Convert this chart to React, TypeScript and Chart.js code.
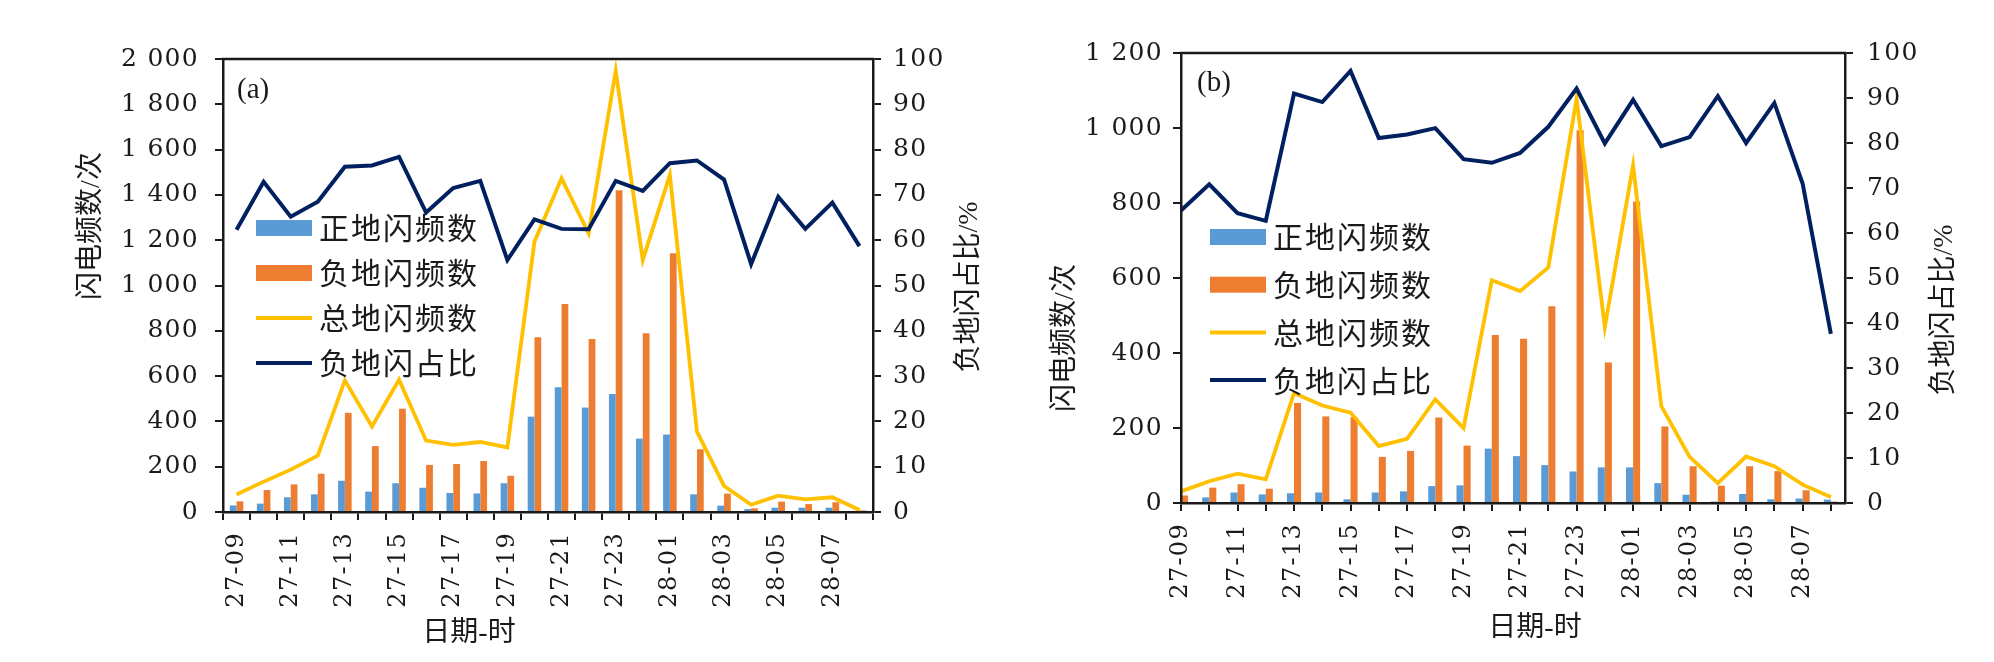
import { useEffect, useRef } from "react";
import { Chart, registerables } from "chart.js";

Chart.register(...registerables);

// hour labels (day-hour), 27-09 .. 28-08
const HOURS = [
  "27-09", "27-10", "27-11", "27-12", "27-13", "27-14", "27-15", "27-16",
  "27-17", "27-18", "27-19", "27-20", "27-21", "27-22", "27-23", "28-00",
  "28-01", "28-02", "28-03", "28-04", "28-05", "28-06", "28-07", "28-08",
];

// panel (a)
const POS_A = [29, 37, 65, 78, 138, 90, 127, 107, 84, 82, 127, 421, 551, 461, 521, 324, 342, 78, 28, 13, 19, 19, 19, 3];
const NEG_A = [47, 97, 122, 169, 438, 291, 456, 208, 212, 225, 160, 771, 918, 764, 1420, 789, 1142, 277, 81, 16, 46, 35, 43, 7];
const TOTAL_A = [77, 134, 187, 249, 581, 378, 584, 315, 296, 309, 285, 1193, 1473, 1230, 1948, 1113, 1488, 355, 115, 32, 72, 56, 65, 9];
const RATIO_A = [62.3, 72.9, 65.2, 68.5, 76.2, 76.5, 78.4, 66.1, 71.5, 73.1, 55.6, 64.6, 62.5, 62.4, 73.1, 70.9, 77.0, 77.6, 73.4, 54.7, 69.6, 62.5, 68.3, 58.7];

// panel (b)
const POS_B = [11, 15, 28, 23, 26, 28, 10, 28, 31, 45, 47, 145, 125, 101, 84, 95, 95, 53, 22, 4, 24, 10, 12, 9];
const NEG_B = [20, 41, 50, 38, 267, 231, 229, 123, 139, 228, 153, 448, 438, 525, 994, 375, 804, 204, 98, 46, 98, 85, 34, 4];
const TOTAL_B = [31, 58, 78, 63, 293, 260, 241, 152, 171, 276, 200, 594, 565, 628, 1078, 469, 900, 258, 123, 53, 124, 98, 49, 16];
const RATIO_B = [65.0, 70.8, 64.4, 62.7, 91.0, 89.1, 96.0, 81.1, 81.9, 83.3, 76.4, 75.6, 77.8, 83.6, 92.1, 79.9, 89.6, 79.3, 81.3, 90.4, 80.0, 88.9, 71.0, 37.6];

const SERIES_NAMES = ["正地闪频数", "负地闪频数", "总地闪频数", "负地闪占比"];

const BLUE = "#5B9BD5";
const ORANGE = "#ED7D31";
const YELLOW = "#FFC000";
const NAVY = "#002060";
const INK = "#1a1a1a";
const NUM_FONT = '"DejaVu Serif", serif';

const H = 662;

function fmtCount(v: number) {
  if (v < 1000) return String(v);
  return `${Math.floor(v / 1000)} ${String(v % 1000).padStart(3, "0")}`;
}

// wider spacing for the tick numbers, like the original print
const spacing = {
  id: "spacing",
  beforeDraw(chart: any) {
    chart.ctx.letterSpacing = "1.3px";
  },
};

// frame top line, panel tag, axis titles and the in-plot legend
const deco = {
  id: "deco",
  afterDraw(chart: any, _args: any, o: any) {
    const { ctx, chartArea: a } = chart;
    ctx.save();
    ctx.letterSpacing = "0px";
    ctx.strokeStyle = INK;
    ctx.lineWidth = 2.5;
    ctx.beginPath();
    ctx.moveTo(a.left - 1.25, a.top);
    ctx.lineTo(a.right + 1.25, a.top);
    ctx.stroke();

    ctx.fillStyle = INK;
    ctx.textBaseline = "middle";
    ctx.textAlign = "left";
    ctx.font = '29px "Liberation Serif"';
    ctx.fillText(o.tag, o.tagX, o.tagY);

    ctx.font = '28px "Liberation Serif", "Noto Sans CJK SC"';
    ctx.textAlign = "center";
    ctx.fillText("日期-时", o.xX, o.xY);
    const rotated: [string, number, number][] = [
      ["闪电频数/次", o.leftX, o.leftY],
      ["负地闪占比/%", o.rightX, o.rightY],
    ];
    for (const [text, x, y] of rotated) {
      ctx.save();
      ctx.translate(x, y);
      ctx.rotate(-Math.PI / 2);
      ctx.fillText(text, 0, 0);
      ctx.restore();
    }

    ctx.font = '30px "Noto Sans CJK SC"';
    ctx.letterSpacing = "2px";
    ctx.textAlign = "left";
    chart.data.datasets.forEach((ds: any, i: number) => {
      const y = o.legendY + i * o.legendGap;
      if (ds.type === "line") {
        ctx.strokeStyle = ds.borderColor;
        ctx.lineWidth = 4;
        ctx.beginPath();
        ctx.moveTo(o.legendX, y);
        ctx.lineTo(o.legendX + 56, y);
        ctx.stroke();
      } else {
        ctx.fillStyle = ds.backgroundColor;
        ctx.fillRect(o.legendX, y - 8, 56, 16);
      }
      ctx.fillStyle = INK;
      ctx.fillText(ds.label, o.legendX + 63, y);
    });
    ctx.restore();
  },
};

type Panel = {
  pos: number[];
  neg: number[];
  total: number[];
  ratio: number[];
  countMax: number;
  countStep: number;
  onTicks: boolean;
  width: number;
  plotLeft: number;
  plotRight: number;
  plotTop: number;
  plotBottom: number;
  padLeft: number;
  padRight: number;
  padX: number;
  deco: any;
};

function buildConfig(p: Panel): any {
  const tickGrid = {
    display: true,
    drawOnChartArea: false,
    drawTicks: true,
    tickLength: 8,
    color: INK,
    lineWidth: 2,
  };
  const border = { display: true, color: INK, width: 2.5, z: 1 };
  const tickFont = { family: NUM_FONT, size: 25 };
  const xFont = { family: NUM_FONT, size: 24 };
  const asData = (arr: number[]) => (p.onTicks ? arr.map((y, i) => ({ x: i, y })) : arr);

  const x = p.onTicks
    ? {
        type: "linear",
        min: 0,
        max: HOURS.length - 0.5,
        offset: false,
        grid: { ...tickGrid, offset: false },
        border,
        ticks: {
          stepSize: 1,
          includeBounds: false,
          autoSkip: false,
          minRotation: 90,
          maxRotation: 90,
          padding: p.padX,
          color: INK,
          font: xFont,
          callback: (v: number) => (Number.isInteger(v) && v % 2 === 0 ? HOURS[v] : ""),
        },
        afterFit: (s: any) => {
          s.height = H - p.plotBottom;
        },
      }
    : {
        type: "category",
        offset: true,
        grid: { ...tickGrid, offset: true },
        border,
        ticks: {
          autoSkip: false,
          minRotation: 90,
          maxRotation: 90,
          padding: p.padX,
          color: INK,
          font: xFont,
          callback: (_v: any, i: number) => (i % 2 === 0 ? HOURS[i] : ""),
        },
        afterFit: (s: any) => {
          s.height = H - p.plotBottom;
        },
      };

  return {
    type: "bar",
    data: {
      labels: p.onTicks ? undefined : HOURS,
      datasets: [
        {
          type: "bar",
          label: SERIES_NAMES[0],
          data: asData(p.pos),
          backgroundColor: BLUE,
          yAxisID: "y",
          categoryPercentage: 0.5,
          barPercentage: 1,
          order: 3,
          clip: 0,
        },
        {
          type: "bar",
          label: SERIES_NAMES[1],
          data: asData(p.neg),
          backgroundColor: ORANGE,
          yAxisID: "y",
          categoryPercentage: 0.5,
          barPercentage: 1,
          order: 3,
          clip: 0,
        },
        {
          type: "line",
          label: SERIES_NAMES[2],
          data: asData(p.total),
          borderColor: YELLOW,
          backgroundColor: YELLOW,
          borderWidth: 3.8,
          pointRadius: 0,
          yAxisID: "y",
          order: 2,
        },
        {
          type: "line",
          label: SERIES_NAMES[3],
          data: asData(p.ratio),
          borderColor: NAVY,
          backgroundColor: NAVY,
          borderWidth: 4,
          pointRadius: 0,
          yAxisID: "y1",
          order: 1,
        },
      ],
    },
    options: {
      responsive: false,
      animation: false,
      layout: { padding: { top: p.plotTop, left: 0, right: 0, bottom: 0 } },
      plugins: {
        legend: { display: false },
        tooltip: { enabled: false },
        deco: p.deco,
      },
      scales: {
        x,
        y: {
          position: "left",
          min: 0,
          max: p.countMax,
          grid: tickGrid,
          border,
          ticks: {
            stepSize: p.countStep,
            padding: p.padLeft,
            color: INK,
            font: tickFont,
            callback: (v: number) => fmtCount(v),
          },
          afterFit: (s: any) => {
            s.width = p.plotLeft;
          },
        },
        y1: {
          position: "right",
          min: 0,
          max: 100,
          grid: tickGrid,
          border,
          ticks: {
            stepSize: 10,
            padding: p.padRight,
            color: INK,
            font: tickFont,
          },
          afterFit: (s: any) => {
            s.width = p.width - p.plotRight;
          },
        },
      },
    },
    plugins: [spacing, deco],
  };
}

function PanelChart({ panel, left }: { panel: Panel; left: number }) {
  const canvasRef = useRef<HTMLCanvasElement>(null);

  useEffect(() => {
    if (!canvasRef.current) return;
    const chart = new Chart(canvasRef.current, buildConfig(panel));
    return () => chart.destroy();
  }, [panel]);

  return (
    <canvas
      ref={canvasRef}
      width={panel.width}
      height={H}
      style={{ position: "absolute", left, top: 0, width: panel.width, height: H }}
    />
  );
}

const PANEL_A: Panel = {
  pos: POS_A,
  neg: NEG_A,
  total: TOTAL_A,
  ratio: RATIO_A,
  countMax: 2000,
  countStep: 200,
  onTicks: false,
  width: 1000,
  plotLeft: 223,
  plotRight: 873,
  plotTop: 59,
  plotBottom: 512,
  padLeft: 16,
  padRight: 12,
  padX: 12,
  deco: {
    tag: "(a)", tagX: 237, tagY: 90,
    xX: 469, xY: 634,
    leftX: 92, leftY: 226,
    rightX: 970, rightY: 287,
    legendX: 256, legendY: 228, legendGap: 45,
  },
};

const PANEL_B: Panel = {
  pos: POS_B,
  neg: NEG_B,
  total: TOTAL_B,
  ratio: RATIO_B,
  countMax: 1200,
  countStep: 200,
  onTicks: true,
  width: 994,
  plotLeft: 181,
  plotRight: 845,
  plotTop: 53,
  plotBottom: 503,
  padLeft: 10,
  padRight: 14,
  padX: 12,
  deco: {
    tag: "(b)", tagX: 197, tagY: 83,
    xX: 535, xY: 629,
    leftX: 66, leftY: 338,
    rightX: 945, rightY: 310,
    legendX: 210, legendY: 237, legendGap: 47.7,
  },
};

export default function App() {
  return (
    <div
      style={{
        position: "fixed",
        left: 0,
        top: 0,
        width: 1994,
        height: H,
        background: "#fff",
        overflow: "hidden",
      }}
    >
      <PanelChart panel={PANEL_A} left={0} />
      <PanelChart panel={PANEL_B} left={1000} />
    </div>
  );
}
